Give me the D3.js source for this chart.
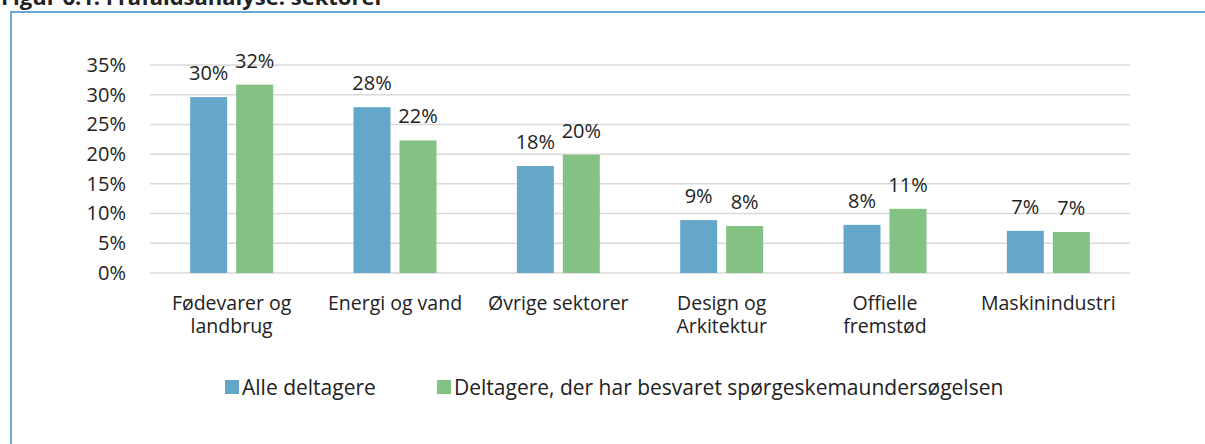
<!DOCTYPE html>
<html>
<head>
<meta charset="utf-8">
<script src="https://cdn.jsdelivr.net/npm/d3@7/dist/d3.min.js"></script>
<style>
  html, body { margin: 0; padding: 0; background: #fff; }
  svg { display: block; font-family: "Open Sans", "Noto Sans", sans-serif; }
</style>
</head>
<body>
<svg id="chart" width="1205" height="444"></svg>
<script>
const categories = [
  ["Fødevarer og", "landbrug"],
  ["Energi og vand"],
  ["Øvrige sektorer"],
  ["Design og", "Arkitektur"],
  ["Offielle", "fremstød"],
  ["Maskinindustri"]
];
const seriesNames = ["Alle deltagere", "Deltagere, der har besvaret spørgeskemaundersøgelsen"];
const allValues = [0.296, 0.279, 0.180, 0.089, 0.081, 0.071];
const respValues = [0.317, 0.223, 0.199, 0.079, 0.108, 0.069];
const allLabels = ["30%", "28%", "18%", "9%", "8%", "7%"];
const respLabels = ["32%", "22%", "20%", "8%", "11%", "7%"];
const yTicks = [0, 0.05, 0.10, 0.15, 0.20, 0.25, 0.30, 0.35];
const colors = ["#65a7c9", "#83c283"];
const titleText = "Figur 6.1: Frafaldsanalyse: sektorer";

const svg = d3.select("#chart");
const catKeys = categories.map(c => c.join(" "));

// title (cut off at top)
svg.append("text").attr("x", 1).attr("y", 5)
  .attr("font-size", 22).attr("font-weight", "bold").attr("fill", "#222")
  .text(titleText);

// frame
svg.append("rect").attr("x", 11).attr("y", 12).attr("width", 1220).attr("height", 460)
  .attr("fill", "none").attr("stroke", "#6aaad0").attr("stroke-width", 2);

const y = d3.scaleLinear().domain([0, 0.35]).range([273, 65]);
const x0 = d3.scaleBand().domain(catKeys).range([150, 1130]);
const x1 = d3.scaleBand().domain([0, 1]).range([-41.5, 41.5]).paddingInner(0.1957);

// gridlines
svg.append("g").selectAll("line").data(yTicks).join("line")
  .attr("x1", 150).attr("x2", 1130)
  .attr("y1", d => y(d)).attr("y2", d => y(d))
  .attr("stroke", "#d9d9d9").attr("stroke-width", 1.5);

// y axis
const yAxis = d3.axisLeft(y).tickValues(yTicks).tickFormat(d3.format(".0%")).tickSize(0).tickPadding(0);
const ya = svg.append("g").attr("transform", "translate(126,0)").call(yAxis);
ya.select(".domain").remove();
ya.selectAll("text").attr("font-size", 20).attr("fill", "#222").attr("font-family", "Open Sans");

const series = [allValues, respValues];
const labels = [allLabels, respLabels];
series.forEach((vals, si) => {
  const g = svg.append("g");
  g.selectAll("rect").data(vals).join("rect")
    .attr("x", (d, i) => x0(catKeys[i]) + x0.bandwidth() / 2 + x1(si))
    .attr("width", x1.bandwidth())
    .attr("y", d => y(d))
    .attr("height", d => y(0) - y(d))
    .attr("fill", colors[si]);
  g.selectAll("text").data(vals).join("text")
    .attr("x", (d, i) => x0(catKeys[i]) + x0.bandwidth() / 2 + x1(si) + x1.bandwidth() / 2)
    .attr("y", d => y(d) - 17)
    .attr("text-anchor", "middle").attr("font-size", 20).attr("fill", "#222")
    .text((d, i) => labels[si][i]);
});

// category labels
const cg = svg.append("g");
categories.forEach((lines, i) => {
  const t = cg.append("text")
    .attr("x", x0(catKeys[i]) + x0.bandwidth() / 2)
    .attr("y", 310).attr("text-anchor", "middle").attr("font-size", 19.5).attr("fill", "#222");
  lines.forEach((ln, j) => {
    t.append("tspan").attr("x", x0(catKeys[i]) + x0.bandwidth() / 2)
      .attr("dy", j === 0 ? 0 : 23).text(ln);
  });
});

// legend
const legendX = [225, 437];
seriesNames.forEach((name, si) => {
  svg.append("rect").attr("x", legendX[si]).attr("y", 380).attr("width", 14).attr("height", 14)
    .attr("fill", colors[si]);
  svg.append("text").attr("x", legendX[si] + 17).attr("y", 395)
    .attr("font-size", 21).attr("fill", "#222").text(name);
});
</script>
</body>
</html>
